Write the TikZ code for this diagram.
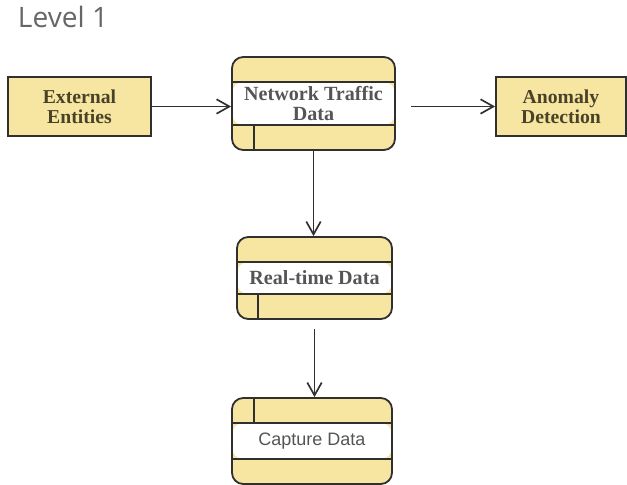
\documentclass[tikz,border=0pt]{standalone}
\usepackage{fontspec}
\setmainfont{Liberation Serif}
\newfontfamily\titlefont{Open Sans}
\newfontfamily\arialfont{Liberation Sans}
\usetikzlibrary{arrows.meta}

\definecolor{boxfill}{HTML}{F7E6A1}
\definecolor{boxline}{HTML}{303030}
\definecolor{entitytext}{HTML}{4A4228}
\definecolor{proctext}{HTML}{555555}

% one pixel of the layout grid
\newcommand*{\px}{0.025cm}

\begin{document}
\begin{tikzpicture}[x=\px, y=-\px,
	entity/.style={draw=boxline, line width=1.3pt, fill=boxfill, text=entitytext, inner sep=0pt,
		align=center, font=\bfseries\fontsize{14}{14.5}\selectfont},
	store/.style={draw=boxline, line width=1.3pt, fill=boxfill, rounded corners=8pt, inner sep=0pt,
		text=proctext, align=center, font=\bfseries\fontsize{14.3}{14.5}\selectfont,
		path picture={
			\fill[white] ([yshift=-25*\px]path picture bounding box.north west)
				rectangle ([yshift=25*\px]path picture bounding box.south east);
			\draw[boxline, line width=1.3pt]
				([yshift=-25*\px]path picture bounding box.north west) -- ([yshift=-25*\px]path picture bounding box.north east)
				([yshift=25*\px]path picture bounding box.south west) -- ([yshift=25*\px]path picture bounding box.south east);
		}},
	flow/.style={draw=boxline, line width=1.3pt, -{Straight Barb[length=0.32cm, width=0.36cm, line width=1.2pt]}}
]

	\useasboundingbox (0,0) rectangle (627,485);

	\node[anchor=base west, text=black!60, font=\titlefont\fontsize{20}{22}\selectfont] (title) at (13,28) {Level 1};

	% terminators
	\node[entity, minimum width=143*\px, minimum height=59*\px] (ext) at (79.5,106.5) {External\\Entities};
	\node[entity, minimum width=130*\px, minimum height=59*\px] (anom) at (561,106.5) {Anomaly\\Detection};

	% data stores
	\node[store, minimum width=163*\px, minimum height=93*\px] (net) at (313.5,103.5) {Network Traffic\\Data};
	\node[store, minimum width=155*\px, minimum height=82*\px] (real) at (314.5,278) {Real-time Data};
	\node[store, minimum width=160*\px, minimum height=86*\px, font=\arialfont\fontsize{12.8}{14}\selectfont] (cap) at (312,441) {Capture Data};

	% id strips
	\draw[boxline, line width=1.3pt] ([xshift=23*\px]net.south west) -- ++(0,-25);
	\draw[boxline, line width=1.3pt] ([xshift=22*\px]real.south west) -- ++(0,-25);
	\draw[boxline, line width=1.3pt] ([xshift=23*\px]cap.north west) -- ++(0,25);

	% flows
	\draw[flow] (ext.east) -- (ext.east -| net.west);
	\draw[flow, shorten <=15*\px] (net.east |- anom.west) -- (anom.west);
	\draw[flow] (net.south) -- (real.north -| net.south);
	\draw[flow, shorten <=9*\px] (real.south) -- (cap.north -| real.south);

\end{tikzpicture}
\end{document}
